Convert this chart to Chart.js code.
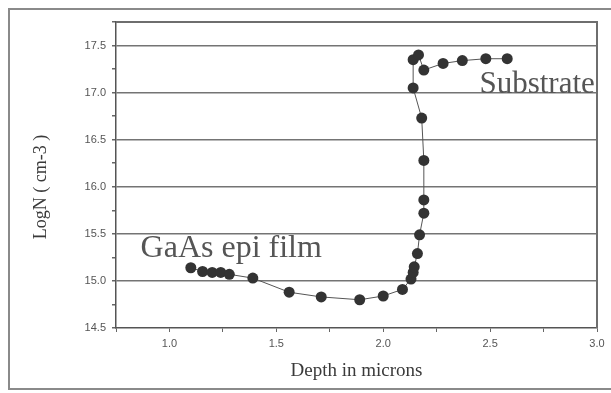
<!DOCTYPE html>
<html>
<head>
<meta charset="utf-8">
<script src="https://cdn.jsdelivr.net/npm/chart.js@4"></script>
<style>
html,body{margin:0;padding:0;background:#fff;}
#wrap{width:611px;height:393px;position:relative;}
</style>
</head>
<body>
<div id="wrap"><canvas id="c" width="611" height="393"></canvas></div>
<script>
// Data
const depth = [1.10, 1.155, 1.20, 1.24, 1.28, 1.39, 1.56, 1.71, 1.89, 2.00, 2.09, 2.13, 2.14, 2.145, 2.16, 2.17, 2.19, 2.19, 2.19, 2.18, 2.14, 2.14, 2.165, 2.19, 2.28, 2.37, 2.48, 2.58];
const logN  = [15.14, 15.10, 15.09, 15.09, 15.07, 15.03, 14.88, 14.83, 14.80, 14.84, 14.91, 15.02, 15.09, 15.15, 15.29, 15.49, 15.72, 15.86, 16.28, 16.73, 17.05, 17.35, 17.40, 17.24, 17.31, 17.34, 17.36, 17.36];
const xTitle = "Depth in microns";
const yTitle = "LogN ( cm-3 )";
const annotationTexts = ["GaAs epi film", "Substrate"];
const annotationX = [0.865, 2.45];
const annotationY = [15.254, 16.996];

const points = depth.map((d, i) => ({x: d, y: logN[i]}));

const decor = {
  id: 'decor',
  beforeDraw(chart) {
    const ctx = chart.ctx;
    ctx.save();
    ctx.strokeStyle = '#8a8a8a';
    ctx.lineWidth = 2;
    ctx.strokeRect(9, 9, 615, 380);
    ctx.restore();
  },
  afterDraw(chart) {
    const ctx = chart.ctx;
    const xs = chart.scales.x, ys = chart.scales.y;
    const L = xs.getPixelForValue(0.75), R = xs.getPixelForValue(3.0);
    const T = ys.getPixelForValue(17.75), B = ys.getPixelForValue(14.5);
    ctx.save();
    ctx.globalAlpha = 1;
    ctx.fillStyle = '#6e6e6e';
    ctx.fillRect(L, T - 1, R - L, 2);
    ctx.fillRect(R - 1, T - 1, 2, B - T + 1);
    ctx.fillStyle = '#555';
    ctx.textBaseline = 'alphabetic';
    ctx.textAlign = 'left';
    ctx.font = '32px "Liberation Serif", "Times New Roman", serif';
    ctx.fillText(annotationTexts[0], xs.getPixelForValue(annotationX[0]), ys.getPixelForValue(annotationY[0]));
    ctx.font = '31px "Liberation Serif", "Times New Roman", serif';
    ctx.fillText(annotationTexts[1], xs.getPixelForValue(annotationX[1]), ys.getPixelForValue(annotationY[1]));
    // y title
    ctx.translate(41, 187);
    ctx.rotate(-Math.PI / 2);
    ctx.textAlign = 'center';
    ctx.textBaseline = 'middle';
    ctx.fillStyle = '#3a3a3a';
    ctx.font = '18px "Liberation Serif", "Times New Roman", serif';
    ctx.fillText(yTitle, 0, 0);
    ctx.restore();
  }
};

new Chart(document.getElementById('c'), {
  type: 'scatter',
  data: {
    datasets: [{
      data: points,
      showLine: true,
      borderColor: '#555',
      borderWidth: 1,
      backgroundColor: '#333',
      pointBackgroundColor: '#333',
      pointBorderColor: '#333',
      pointBorderWidth: 0,
      pointRadius: 5.5,
      pointHoverRadius: 5.5,
      tension: 0,
      clip: false
    }]
  },
  options: {
    responsive: false,
    animation: false,
    events: [],
    layout: {padding: {top: 22, right: 14, left: 0, bottom: 0}},
    plugins: {legend: {display: false}, tooltip: {enabled: false}},
    scales: {
      x: {
        type: 'linear',
        position: 'bottom',
        min: 0.75, max: 3.0,
        afterFit(s) { s.height = 65; },
        border: {display: true, color: '#555', width: 1.5},
        grid: {drawOnChartArea: false, tickLength: 4, color: '#666', tickColor: '#666'},
        ticks: {
          stepSize: 0.25,
          autoSkip: false,
          maxRotation: 0,
          padding: 5,
          color: '#555',
          font: {family: '"Liberation Sans", Arial, sans-serif', size: 11},
          callback: v => (Math.abs(v * 2 - Math.round(v * 2)) < 1e-6 ? v.toFixed(1) : '')
        },
        title: {
          display: true, text: xTitle, color: '#3a3a3a',
          font: {family: '"Liberation Serif", "Times New Roman", serif', size: 19},
          padding: {top: 0, bottom: 11}
        }
      },
      y: {
        type: 'linear',
        position: 'left',
        min: 14.5, max: 17.75,
        afterFit(s) { s.width = 116; },
        border: {display: true, color: '#555', width: 1.5},
        grid: {
          tickLength: 4,
          lineWidth: 1.5,
          color: ctx => {
            const v = ctx.tick ? ctx.tick.value : 0;
            return (Math.abs(v * 2 - Math.round(v * 2)) < 1e-6 && v < 17.7 && v > 14.6) ? '#747474' : 'rgba(0,0,0,0)';
          },
          tickColor: '#666'
        },
        ticks: {
          stepSize: 0.25,
          autoSkip: false,
          padding: 6,
          color: '#555',
          font: {family: '"Liberation Sans", Arial, sans-serif', size: 11},
          callback: v => (Math.abs(v * 2 - Math.round(v * 2)) < 1e-6 ? v.toFixed(1) : '')
        }
      }
    }
  },
  plugins: [decor]
});
</script>
</body>
</html>
